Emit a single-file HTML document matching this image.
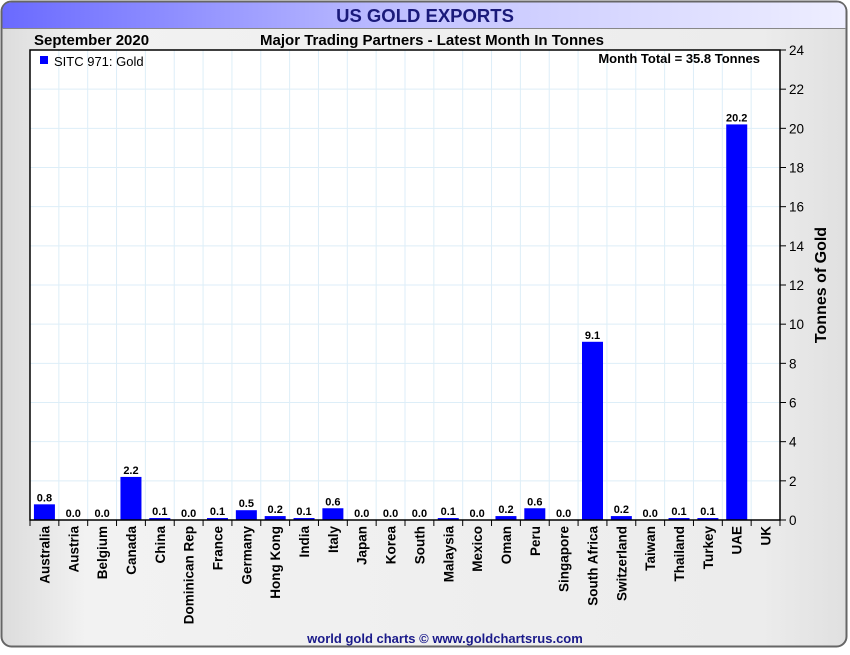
<!DOCTYPE html>
<html><head><meta charset="utf-8"><style>
body{margin:0;width:850px;height:650px;overflow:hidden;background:#fff;font-family:"Liberation Sans",sans-serif}
</style></head><body>
<svg id="c" width="850" height="650" xmlns="http://www.w3.org/2000/svg">
<defs>
<linearGradient id="tg" x1="0" x2="1"><stop offset="0" stop-color="#6a6aff"/><stop offset="0.5" stop-color="#c4c4ff"/><stop offset="1" stop-color="#eeeeff"/></linearGradient>
<linearGradient id="bg" x1="0" x2="1"><stop offset="0" stop-color="#dcdcdc"/><stop offset="0.1" stop-color="#f2f2f2"/><stop offset="0.9" stop-color="#ececec"/><stop offset="1" stop-color="#e0e0e0"/></linearGradient>
</defs>
<rect x="1.5" y="1.5" width="845" height="645" rx="10" fill="url(#bg)" stroke="#666" stroke-width="2"/>
<path d="M2.5 28 L2.5 12 Q2.5 2.5 12 2.5 L836 2.5 Q845.5 2.5 845.5 12 L845.5 28 Z" fill="url(#tg)"/>
<line x1="2" y1="28.5" x2="846" y2="28.5" stroke="#888"/>
<text x="425" y="22" text-anchor="middle" font-size="18.5" font-weight="bold" fill="#1a1a7a">US GOLD EXPORTS</text>
<text x="34" y="45" font-size="15" font-weight="bold" fill="#000">September 2020</text>
<text x="432" y="45" text-anchor="middle" font-size="15" font-weight="bold" fill="#000">Major Trading Partners - Latest Month In Tonnes</text>
<rect x="30" y="50" width="750" height="470" fill="#fff"/>
<g id="grid"></g><g id="bars"></g><g id="axes"></g>
<rect x="30" y="50" width="750" height="470" fill="none" stroke="#000" stroke-width="1.5"/>
<rect x="40" y="56" width="8" height="8" fill="#0000ff"/>
<text x="54" y="66" font-size="13" fill="#000">SITC 971: Gold</text>
<text x="760" y="63" text-anchor="end" font-size="13" font-weight="bold" fill="#000">Month Total = 35.8 Tonnes</text>
<text transform="translate(826,285) rotate(-90)" text-anchor="middle" font-size="16" font-weight="bold" fill="#000">Tonnes of Gold</text>
<text x="445" y="643" text-anchor="middle" font-size="13" font-weight="bold" fill="#1a1a8a">world gold charts © www.goldchartsrus.com</text>
</svg>
<script>
const categories=["Australia","Austria","Belgium","Canada","China","Dominican Rep","France","Germany","Hong Kong","India","Italy","Japan","Korea","South","Malaysia","Mexico","Oman","Peru","Singapore","South Africa","Switzerland","Taiwan","Thailand","Turkey","UAE","UK"];
const values=[0.8,0.0,0.0,2.2,0.1,0.0,0.1,0.5,0.2,0.1,0.6,0.0,0.0,0.0,0.1,0.0,0.2,0.6,0.0,9.1,0.2,0.0,0.1,0.1,20.2,null];
const yTicks=[0,2,4,6,8,10,12,14,16,18,20,22,24];
const NS="http://www.w3.org/2000/svg";
const L=30,R=780,T=50,B=520,yMax=24;
const bw=(R-L)/categories.length;
const y=v=>B-(v/yMax)*(B-T);
const xc=i=>L+bw*(i+0.5);
function mk(t,a,p){const e=document.createElementNS(NS,t);for(const k in a)e.setAttribute(k,a[k]);p.appendChild(e);return e;}
const grid=document.getElementById('grid'),bars=document.getElementById('bars'),axes=document.getElementById('axes');
yTicks.forEach(v=>{
 const gl=mk('line',{x1:L,x2:R,y1:y(v),y2:y(v),stroke:'#ddeef8'},grid);
 
 
 mk('line',{x1:R,x2:R+6,y1:y(v),y2:y(v),stroke:'#000'},axes);
 const t=mk('text',{x:R+9,y:y(v)+5,'font-size':13.5,fill:'#000'},axes);
 t.textContent=v;
 
 
});
for(let i=0;i<=categories.length;i++){
 const x=L+bw*i;
 if(i>0&&i<categories.length){const g=mk('line',{x1:x,x2:x,y1:T,y2:B,stroke:'#ddeef8'},grid);
 
 }
 mk('line',{x1:x,x2:x,y1:B,y2:B+6,stroke:'#000'},axes);
}
categories.forEach((c,i)=>{
 const t=mk('text',{transform:`translate(${xc(i)+5},${B+6}) rotate(-90)`,'text-anchor':'end','font-size':13.5,'font-weight':'bold',fill:'#000'},axes);
 t.textContent=c;
 
 
 const v=values[i];
 if(v==null)return;
 const r=mk('rect',{x:xc(i)-10.5,y:y(v),width:21,height:Math.max(B-y(v),v>0?1.5:0),fill:'#0000ff'},bars);
 
 
 const l=mk('text',{x:xc(i),y:y(v)-3,'text-anchor':'middle','font-size':11,'font-weight':'bold',fill:'#000'},bars);
 l.textContent=v.toFixed(1);
 
 
});
</script>
</body></html>
